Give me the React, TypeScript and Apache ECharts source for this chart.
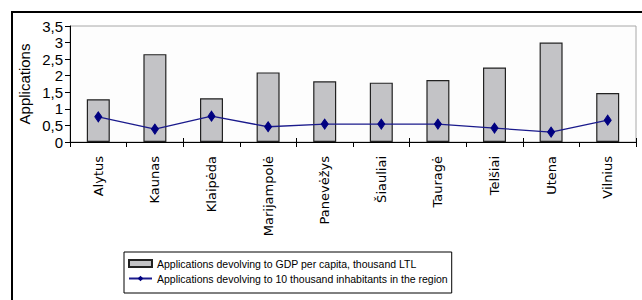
import React, { useEffect, useRef } from "react";
import * as echarts from "echarts";

const regions = ["Alytus", "Kaunas", "Klaipėda", "Marijampolė", "Panevėžys", "Šiauliai", "Tauragė", "Telšiai", "Utena", "Vilnius"];
const gdpApplications = [1.29, 2.65, 1.32, 2.1, 1.83, 1.79, 1.87, 2.25, 3.0, 1.48];
const inhabitantApplications = [0.76, 0.39, 0.78, 0.46, 0.54, 0.54, 0.54, 0.42, 0.3, 0.66];
const barName = "Applications devolving to GDP per capita, thousand LTL";
const lineName = "Applications devolving to 10 thousand inhabitants in the region";
const yAxisTitle = "Applications";

export default function App() {
  const ref = useRef<HTMLDivElement>(null);
  useEffect(() => {
    document.body.style.margin = "0";
    const chart = echarts.init(ref.current!, null, { renderer: "svg" });
    chart.setOption({
      animation: false,
      backgroundColor: "#ffffff",
      grid: {
        left: 70,
        right: 6,
        top: 26,
        bottom: 158,
        show: true,
        borderColor: "#a8a8a8",
        borderWidth: 1,
        backgroundColor: "#fdfdfd",
      },
      legend: {
        orient: "vertical",
        left: 124,
        top: 252,
        padding: [6, 4, 9, 4],
        itemGap: 4,
        itemWidth: 23,
        itemHeight: 7,
        borderColor: "#000",
        borderWidth: 1,
        borderRadius: 0,
        textStyle: { fontFamily: "'Liberation Sans', Arial", fontSize: 10.5, color: "#000" },
        data: [
          { name: barName, icon: "rect" },
          { name: lineName },
        ],
      },
      xAxis: [
        {
          type: "category",
          data: regions,
          boundaryGap: true,
          axisLine: { lineStyle: { color: "#000", width: 1 } },
          axisTick: { show: true, length: 5, lineStyle: { color: "#000" } },
          axisLabel: {
            rotate: 90,
            margin: 14,
            color: "#000",
            fontFamily: "'DejaVu Sans', sans-serif",
            fontSize: 13,
            interval: 0,
          },
        },
        {
          type: "category",
          data: regions,
          position: "bottom",
          boundaryGap: true,
          axisLine: { show: false },
          axisTick: { show: true, inside: true, length: 4, lineStyle: { color: "#000" } },
          axisLabel: { show: false },
        },
      ],
      yAxis: {
        type: "value",
        min: 0,
        max: 3.5,
        interval: 0.5,
        name: yAxisTitle,
        nameLocation: "middle",
        nameRotate: 90,
        nameGap: 38,
        nameMoveOverlap: false,
        nameTextStyle: { fontFamily: "'Liberation Sans', Arial", fontSize: 15, color: "#000" },
        axisLine: { show: true, lineStyle: { color: "#000", width: 1 } },
        axisTick: { show: true, length: 5, lineStyle: { color: "#000" } },
        splitLine: { show: false },
        axisLabel: {
          margin: 7,
          color: "#000",
          fontFamily: "'Liberation Sans', Arial",
          fontSize: 15,
          formatter: (v: number) => String(v).replace(".", ","),
        },
      },
      series: [
        {
          name: barName,
          type: "bar",
          data: gdpApplications,
          barWidth: 23,
          itemStyle: { color: "#c3c3c6", borderColor: "#222", borderWidth: 1.2 },
        },
        {
          name: lineName,
          type: "line",
          data: inhabitantApplications,
          symbol: "diamond",
          symbolSize: [7, 10],
          lineStyle: { color: "#1a1a8c", width: 1.3 },
          itemStyle: { color: "#000080", borderColor: "#000080" },
        },
      ],
      graphic: [
        { type: "line", shape: { x1: 11, y1: 12, x2: 642, y2: 12 }, style: { stroke: "#000", lineWidth: 2 } },
        { type: "line", shape: { x1: 12, y1: 11, x2: 12, y2: 300 }, style: { stroke: "#000", lineWidth: 2 } },
      ],
    });
    return () => chart.dispose();
  }, []);
  return <div ref={ref} style={{ width: 642, height: 300 }} />;
}
